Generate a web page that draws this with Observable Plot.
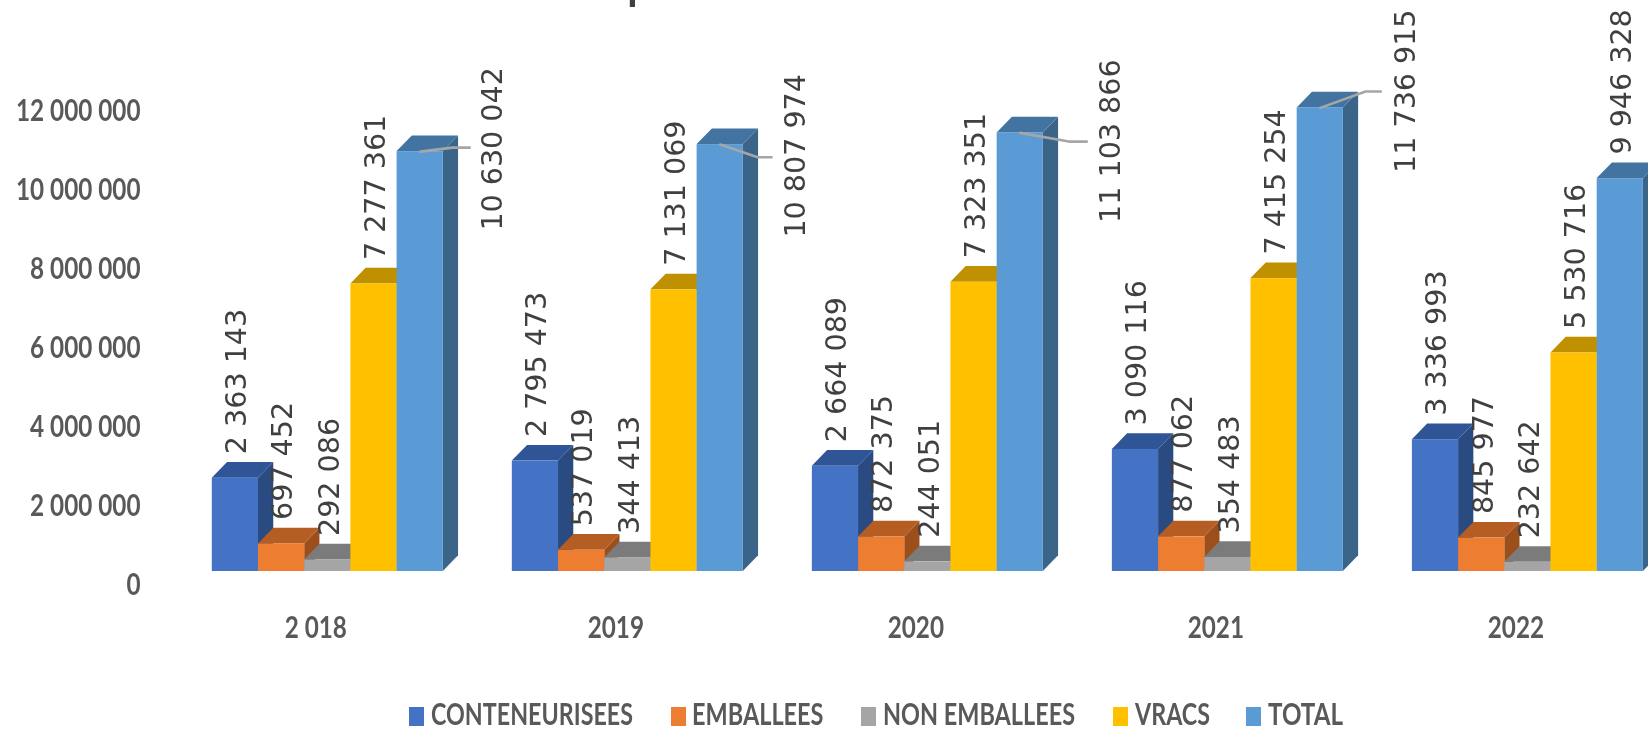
<!DOCTYPE html>
<html><head><meta charset="utf-8">
<script src="https://cdn.jsdelivr.net/npm/d3@7"></script>
<script src="https://cdn.jsdelivr.net/npm/@observablehq/plot@0.6"></script>
<style>
html,body{margin:0;padding:0;background:#fff;overflow:hidden}
#wrap{filter:blur(.45px)}
#legend{position:relative;height:34px;width:1648px;font:bold 24.3px Lato,sans-serif;color:#595959}
#legend i{position:absolute;top:10px;width:15px;height:19px}
#legend span{position:absolute;top:2px;line-height:30px;white-space:nowrap;transform-origin:0 50%}
</style></head><body><div id="wrap"><div id="chart"></div><div id="legend"></div></div>
<script>
const years = ["2 018","2019","2020","2021","2022"];
const series = ["CONTENEURISEES","EMBALLEES","NON EMBALLEES","VRACS","TOTAL"];
const conteneurisees = [2363143,2795473,2664089,3090116,3336993];
const emballees = [697452,537019,872375,877062,845977];
const nonEmballees = [292086,344413,244051,354483,232642];
const vracs = [7277361,7131069,7323351,7415254,5530716];
const total = [10630042,10807974,11103866,11736915,9946328];
const frontColors = ["#4472c4","#ed7d31","#a5a5a5","#ffc000","#5b9bd5"];
const topColors = ["#2f5597","#b55d22","#7b7b7b","#bf9000","#4374a1"];
const sideColors = ["#2a4a82","#9c4f1b","#6e6e6e","#a67c00","#3a6589"];
const yTicks = [0,2e6,4e6,6e6,8e6,10e6,12e6];
// TOTAL data labels moved away from their bars, in bar widths and in tonnes
const totalLabelDx = [1.54,1.60,1.93,1.82,0];
const totalLabelDy = [-2.0e6,-2.354e6,-2.278e6,-1.646e6,0.61e6];
const leaderElbowDx = [0.70,0.81,1.05,0.98];
const leaderEndDx = [1.07,1.11,1.44,1.31];
const leaderDy = [0.1e6,-0.32e6,-0.22e6,0.415e6];
const legendLeft = [409,670.5,861,1112.5,1246];
const legendTextLeft = [431,691.5,883,1135,1268];
const legendTextWidth = [202,131.5,192,75,75];

const values = [conteneurisees,emballees,nonEmballees,vracs,total];
const pitch = 6.494, depthX = 0.33, depthY = 0.397e6;
const fmt = v => d3.format(",")(v).replace(/,/g," ");
const barX = (g,s) => g*pitch + s;

const rows = values.map((vals,s) => vals.map((v,g) => ({g,s,v,x:barX(g,s)})));
const poly = (r,kind) => kind==="side"
  ? [{z:r.g,x1:r.x+1,y1:0,x2:r.x+1,y2:r.v},{z:r.g,x1:r.x+1+depthX,y1:depthY,x2:r.x+1+depthX,y2:r.v+depthY}]
  : [{z:r.g,x1:r.x,y1:r.v,x2:r.x+1,y2:r.v},{z:r.g,x1:r.x+depthX,y1:r.v+depthY,x2:r.x+1+depthX,y2:r.v+depthY}];

const barMarks = rows.flatMap((rs,s) => [
  Plot.area(rs.flatMap(r=>poly(r,"side")),{x1:"x1",y1:"y1",x2:"x2",y2:"y2",z:"z",fill:sideColors[s]}),
  Plot.area(rs.flatMap(r=>poly(r,"top")),{x1:"x1",y1:"y1",x2:"x2",y2:"y2",z:"z",fill:topColors[s]}),
  Plot.rect(rs,{x1:"x",x2:d=>d.x+1,y1:0,y2:"v",fill:frontColors[s]})
]);

const regular = rows.slice(0,4).flat();
const totals = rows[4];
const leaders = totals.slice(0,4).flatMap((r,i)=>[
  {z:i,x:r.x+0.5,y:r.v},
  {z:i,x:r.x+0.5+leaderElbowDx[i],y:r.v+leaderDy[i]},
  {z:i,x:r.x+0.5+leaderEndDx[i],y:r.v+leaderDy[i]}
]);
const labelFont = {fontFamily:"DejaVu Sans",fontSize:28,fill:"#404040",rotate:-90,textAnchor:"start",lineAnchor:"middle"};
const axisFont = {fontFamily:"Lato",fontWeight:"bold",fontSize:24.3,fill:"#595959"};

const chart = Plot.plot({
  width:1648,height:697,marginLeft:150,marginRight:0,marginTop:0,marginBottom:0,
  x:{axis:null,domain:[0,1],range:[211.8,258]},
  y:{axis:null,domain:[0,12e6],range:[571,97]},
  marks:[
    ...barMarks,
    Plot.line(leaders,{x:"x",y:"y",z:"z",stroke:"#a6a6a6",strokeWidth:2.6}),
    Plot.text(regular,{x:d=>d.x+0.54,y:"v",dy:-24,text:d=>fmt(d.v),...labelFont}),
    Plot.text(totals,{x:(d,i)=>d.x+0.54+totalLabelDx[i],y:(d,i)=>d.v+totalLabelDy[i],text:d=>fmt(d.v),...labelFont}),
    Plot.axisY(yTicks,{anchor:"left",label:null,tickSize:0,tickPadding:10,dy:14,tickFormat:fmt,...axisFont}),
    Plot.text(years,{x:(d,i)=>barX(i,0)+2.24,y:0,dy:57,text:d=>d,...axisFont}),
    Plot.text(["p"],{x:[8.98],y:[14.47e6],text:d=>d,textAnchor:"start",lineAnchor:"bottom",
      fontFamily:"Lato",fontSize:42,fontWeight:"bold",fill:"#404040"})
  ]
});
document.getElementById("chart").appendChild(chart);
chart.style.display="block";
// the source picture is stretched: tall condensed axis text, long data labels
d3.select(chart).selectAll('g[font-family="Lato"] text').each(function(){
  if (this.textContent==="p") return;
  const t=this.getAttribute("transform")||"";
  this.setAttribute("transform",t+" scale(1,1.24)");
});
d3.select(chart).selectAll('g[font-family="DejaVu Sans"] text').each(function(){
  const t=this.getAttribute("transform")||"";
  this.setAttribute("transform",t+" scale(1.02,1)");
});
const legend = document.getElementById("legend");
series.forEach((name,i)=>{
  const sw=document.createElement("i");sw.style.left=legendLeft[i]+"px";sw.style.background=frontColors[i];legend.appendChild(sw);
  const t=document.createElement("span");t.style.left=legendTextLeft[i]+"px";t.textContent=name;legend.appendChild(t);
  const w=t.getBoundingClientRect().width;
  t.style.transform=`scale(${legendTextWidth[i]/w},1.24)`;
});
</script></body></html>
